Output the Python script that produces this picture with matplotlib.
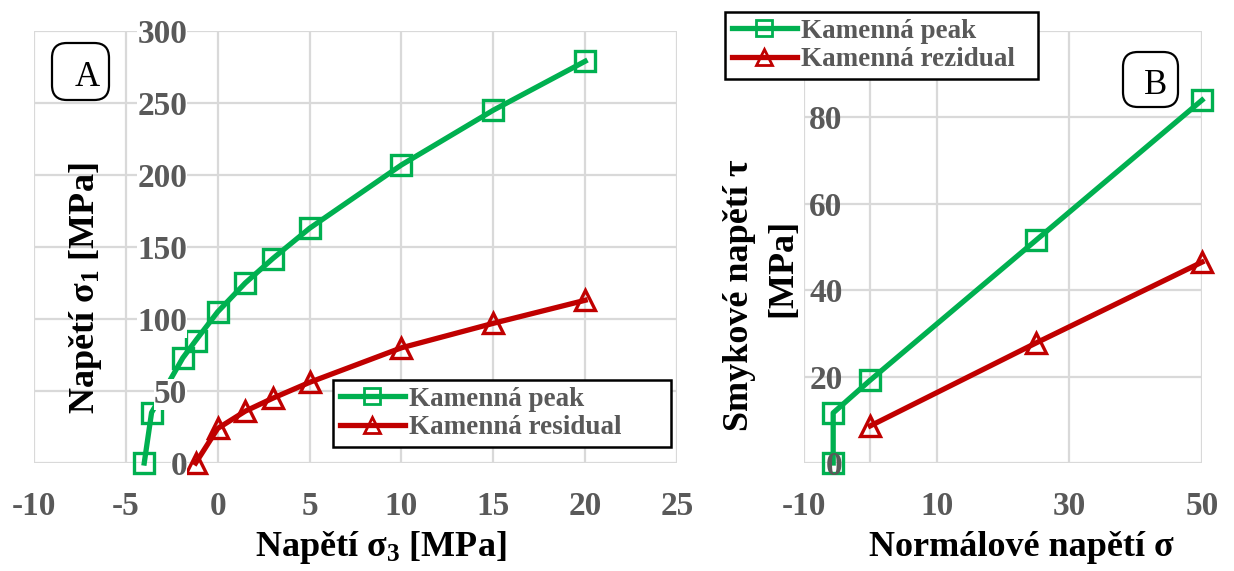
import matplotlib
matplotlib.use("Agg")
import matplotlib.pyplot as plt
from matplotlib.patches import FancyBboxPatch

plt.rcParams['font.family'] = ['Liberation Serif', 'DejaVu Serif']
plt.rcParams['mathtext.fontset'] = 'custom'
plt.rcParams['mathtext.rm'] = 'Liberation Serif:bold'
plt.rcParams['mathtext.bf'] = 'Liberation Serif:bold'
plt.rcParams['mathtext.it'] = 'Liberation Serif:bold'

# ---------------- data ----------------
# Chart A: sigma3 vs sigma1
a_peak_x = [-4.0, -3.6, -1.9, -1.2, 0.0, 1.5, 3.0, 5.0, 10.0, 15.0, 20.0]
a_peak_y = [0, 35, 73, 85, 105, 125, 142, 163, 207, 245, 279]
a_res_x = [-1.2, 0.0, 1.5, 3.0, 5.0, 10.0, 15.0, 20.0]
a_res_y = [0, 24, 36, 45, 56, 80, 97, 113]
a_xticks = [-10, -5, 0, 5, 10, 15, 20, 25]
a_yticks = [0, 50, 100, 150, 200, 250, 300]
a_ylabels = ['0', '50', '100', '150', '200', '250', '300']

# Chart B: normal stress vs shear stress
b_peak_x = [-5.6, -5.6, 0.0, 25.0, 50.0]
b_peak_y = [0, 11.6, 19.2, 51.6, 84.0]
b_res_x = [0.0, 25.0, 50.0]
b_res_y = [8.6, 27.8, 46.5]
b_xticks = [-10, 10, 30, 50]
b_yticks = [0, 20, 40, 60, 80, 100]
b_ylabels = ['0', '20', '40', '60', '80', '']   # the 100 label sits under the legend

GREEN = '#00B050'
RED = '#C00000'
GRID = '#D9D9D9'
TICKC = '#595959'

W, H = 1234, 571
fig = plt.figure(figsize=(W / 100, H / 100), dpi=100)


def px(x0, y0, x1, y1):
    return [x0 / W, 1 - y1 / H, (x1 - x0) / W, (y1 - y0) / H]


def style_axes(ax, xticks, yticks, ylabels, xlim, ylim, extra_vlines, ypad, xpad, label_bg):
    ax.set_xlim(*xlim)
    ax.set_ylim(*ylim)
    for t in yticks:
        ax.axhline(t, color=GRID, lw=1.6, zorder=0.8)
    for t in list(xticks) + list(extra_vlines):
        ax.axvline(t, color=GRID, lw=1.6, zorder=0.8)
    for s in ax.spines.values():
        s.set_visible(False)
    ax.spines['left'].set_position(('data', 0))
    ax.set_xticks(xticks)
    ax.set_yticks(yticks)
    ax.set_xticklabels([str(t) for t in xticks])
    ax.set_yticklabels(ylabels)
    ax.tick_params(length=0, labelsize=24, labelcolor=TICKC)
    ax.tick_params(axis='y', pad=ypad)
    ax.tick_params(axis='x', pad=xpad)
    for lab in ax.get_yticklabels() + ax.get_xticklabels():
        lab.set_fontweight('bold')
        if label_bg:
            lab.set_bbox(dict(facecolor='white', edgecolor='none', pad=0))
    ax.yaxis.set_zorder(2.5)
    ax.xaxis.set_zorder(2.5)


def make_legend(ax, x0, y0, x1):
    leg = ax.legend(loc='upper left', bbox_to_anchor=(x0 / W, 1 - y0 / H - 0.001, (x1 - x0) / W, 0.001),
                    bbox_transform=fig.transFigure, mode='expand',
                    prop=dict(family='Liberation Serif', weight='bold', size=19.5), labelcolor=TICKC,
                    frameon=True, fancybox=False, edgecolor='black', framealpha=1,
                    handlelength=2.4, handletextpad=0.15, borderpad=0.25, labelspacing=0.12,
                    borderaxespad=0)
    leg.get_frame().set_linewidth(1.8)
    leg.set_zorder(5)
    for h in leg.legend_handles:
        h.set_markersize(11)
        h.set_markeredgewidth(2)
    return leg


line_kw = dict(lw=3.8, markersize=14, markeredgewidth=2.4, fillstyle='none', clip_on=False, zorder=2)
TITLE = dict(fontsize=26, fontweight='bold', color='black')

# ---------------- Chart A ----------------
axA = fig.add_axes(px(34, 31, 677, 463))
style_axes(axA, a_xticks, a_yticks, a_ylabels, (-10, 25), (0, 300), [], 22, 20, True)
axA.plot(a_peak_x, a_peak_y, color=GREEN, marker='s', label='Kamenná peak', **line_kw)
axA.plot(a_res_x, a_res_y, color=RED, marker='^', label='Kamenná residual', **line_kw)
make_legend(axA, 333, 380, 671)

fig.text(381 / W, 1 - 547 / H, r'Napětí $\mathbf{σ_3}$ [MPa]', ha='center', va='center', **TITLE)
fig.text(85 / W, 1 - 288 / H, r'Napětí $\mathbf{σ_1}$ [MPa]', ha='center', va='center',
         rotation=90, **TITLE)

# ---------------- Chart B ----------------
axB = fig.add_axes(px(804, 31, 1202, 463))
style_axes(axB, b_xticks, b_yticks, b_ylabels, (-10, 50), (0, 100), [0], 20, 20, False)
axB.plot(b_peak_x, b_peak_y, color=GREEN, marker='s', label='Kamenná peak', **line_kw)
axB.plot(b_res_x, b_res_y, color=RED, marker='^', label='Kamenná rezidual', **line_kw)
make_legend(axB, 725, 12, 1038)

fig.text(1021 / W, 1 - 547 / H, 'Normálové napětí σ', ha='center', va='center', **TITLE)
fig.text(740 / W, 1 - 295 / H, 'Smykové napětí τ', ha='center', va='center', rotation=90, **TITLE)
fig.text(783 / W, 1 - 268 / H, '[MPa]', ha='center', va='center', rotation=90, **TITLE)

# ---------------- panel tags ----------------
for (x0, y0, x1, y1, tag, tx, ty) in [(52, 43, 109, 100, 'A', 87, 78), (1123, 52, 1178, 107, 'B', 1156, 85)]:
    box = FancyBboxPatch((x0 / W, 1 - y1 / H), (x1 - x0) / W, (y1 - y0) / H,
                         boxstyle='round,pad=0,rounding_size=0.012', transform=fig.transFigure,
                         facecolor='white', edgecolor='black', lw=1.6, zorder=6,
                         mutation_aspect=W / H)
    fig.add_artist(box)
    fig.text(tx / W, 1 - ty / H, tag, ha='center', va='center', fontsize=25, color='black', zorder=7)

fig.savefig('out.png', dpi=100)
